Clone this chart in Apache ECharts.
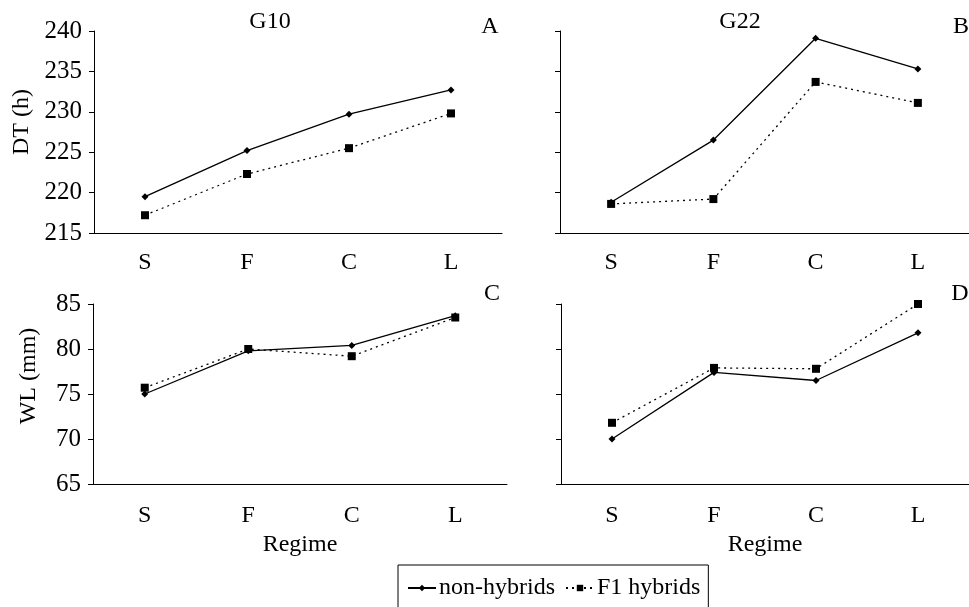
<!DOCTYPE html>
<html>
<head>
<meta charset="utf-8">
<script src="https://cdn.jsdelivr.net/npm/echarts@6/dist/echarts.min.js"></script>
<style>
  html, body { margin: 0; padding: 0; background: #fff; }
  #chart { width: 969px; height: 607px; }
</style>
</head>
<body>
<div id="chart"></div>
<script>
// 数据
const regimes = ['S', 'F', 'C', 'L']
const dtG10Non = [219.5, 225.2, 229.7, 232.7]
const dtG10F1 = [217.2, 222.3, 225.5, 229.8]
const dtG22Non = [218.8, 226.5, 239.1, 235.3]
const dtG22F1 = [218.6, 219.2, 233.7, 231.1]
const wlG10Non = [75.0, 79.8, 80.4, 83.7]
const wlG10F1 = [75.7, 80.0, 79.2, 83.5]
const wlG22Non = [70.0, 77.4, 76.5, 81.8]
const wlG22F1 = [71.8, 77.9, 77.8, 85.0]

const FONT = 'Liberation Serif'
const FS = 24

const chart = echarts.init(document.getElementById('chart'))

function setXAxis(gridIndex, withName) {
  return {
    type: 'category',
    gridIndex: gridIndex,
    data: regimes,
    boundaryGap: true,
    axisLine: { lineStyle: { color: '#000', width: 1 } },
    axisTick: { show: false },
    axisLabel: { color: '#000', fontFamily: FONT, fontSize: FS, margin: gridIndex < 2 ? 18 : 20 },
    name: withName ? 'Regime' : '',
    nameLocation: 'middle',
    nameGap: 49,
    nameTextStyle: { color: '#000', fontFamily: FONT, fontSize: FS }
  }
}

function setYAxis(gridIndex, min, max, showLabel) {
  return {
    type: 'value',
    gridIndex: gridIndex,
    min: min,
    max: max,
    interval: 5,
    axisLine: { show: true, lineStyle: { color: '#000', width: 1 } },
    axisTick: { show: true, inside: false, length: 5, lineStyle: { color: '#000' } },
    axisLabel: { show: showLabel, color: '#000', fontFamily: FONT, fontSize: 25, margin: 12 },
    splitLine: { show: false }
  }
}

function setNon(idx, data) {
  return {
    type: 'line',
    name: 'non-hybrids',
    xAxisIndex: idx,
    yAxisIndex: idx,
    data: data,
    symbol: 'diamond',
    symbolSize: 7,
    lineStyle: { color: '#000', width: 1.3, type: 'solid' },
    itemStyle: { color: '#000' },
    z: 3
  }
}

function setF1(idx, data) {
  return {
    type: 'line',
    name: 'F1 hybrids',
    xAxisIndex: idx,
    yAxisIndex: idx,
    data: data,
    symbol: 'rect',
    symbolSize: 8,
    lineStyle: { color: '#000', width: 1.3, type: [2, 4] },
    itemStyle: { color: '#000' },
    z: 2
  }
}

function label(text, x, y, rotate) {
  return {
    type: 'text',
    x: x,
    y: y,
    rotation: rotate ? Math.PI / 2 : 0,
    style: {
      text: text,
      fill: '#000',
      font: FS + 'px "' + FONT + '"',
      textAlign: 'center',
      textVerticalAlign: 'middle'
    }
  }
}

const option = {
  animation: false,
  backgroundColor: '#fff',
  grid: [
    { left: 94, top: 31, width: 408, height: 202 },
    { left: 560, top: 31, width: 412, height: 202 },
    { left: 93, top: 304, width: 414, height: 180 },
    { left: 561, top: 304, width: 412, height: 180 }
  ],
  xAxis: [setXAxis(0, false), setXAxis(1, false), setXAxis(2, true), setXAxis(3, true)],
  yAxis: [
    setYAxis(0, 215, 240, true),
    setYAxis(1, 215, 240, false),
    setYAxis(2, 65, 85, true),
    setYAxis(3, 65, 85, false)
  ],
  legend: {
    data: ['non-hybrids', 'F1 hybrids'],
    left: 398,
    top: 565,
    orient: 'horizontal',
    padding: [11, 8, 16, 9],
    itemWidth: 28,
    itemHeight: 8,
    itemGap: 10,
    borderColor: '#000',
    borderWidth: 1,
    textStyle: { color: '#000', fontFamily: FONT, fontSize: FS, padding: [0, 0, 0, -2] }
  },
  graphic: [
    label('G10', 270, 22),
    label('G22', 740, 22),
    label('A', 490, 27),
    label('B', 961, 27),
    label('C', 492, 294),
    label('D', 960, 294),
    label('DT (h)', 22, 122, true),
    label('WL (mm)', 29, 376, true)
  ],
  series: [
    setNon(0, dtG10Non), setF1(0, dtG10F1),
    setNon(1, dtG22Non), setF1(1, dtG22F1),
    setNon(2, wlG10Non), setF1(2, wlG10F1),
    setNon(3, wlG22Non), setF1(3, wlG22F1)
  ]
}

chart.setOption(option)
</script>
</body>
</html>
